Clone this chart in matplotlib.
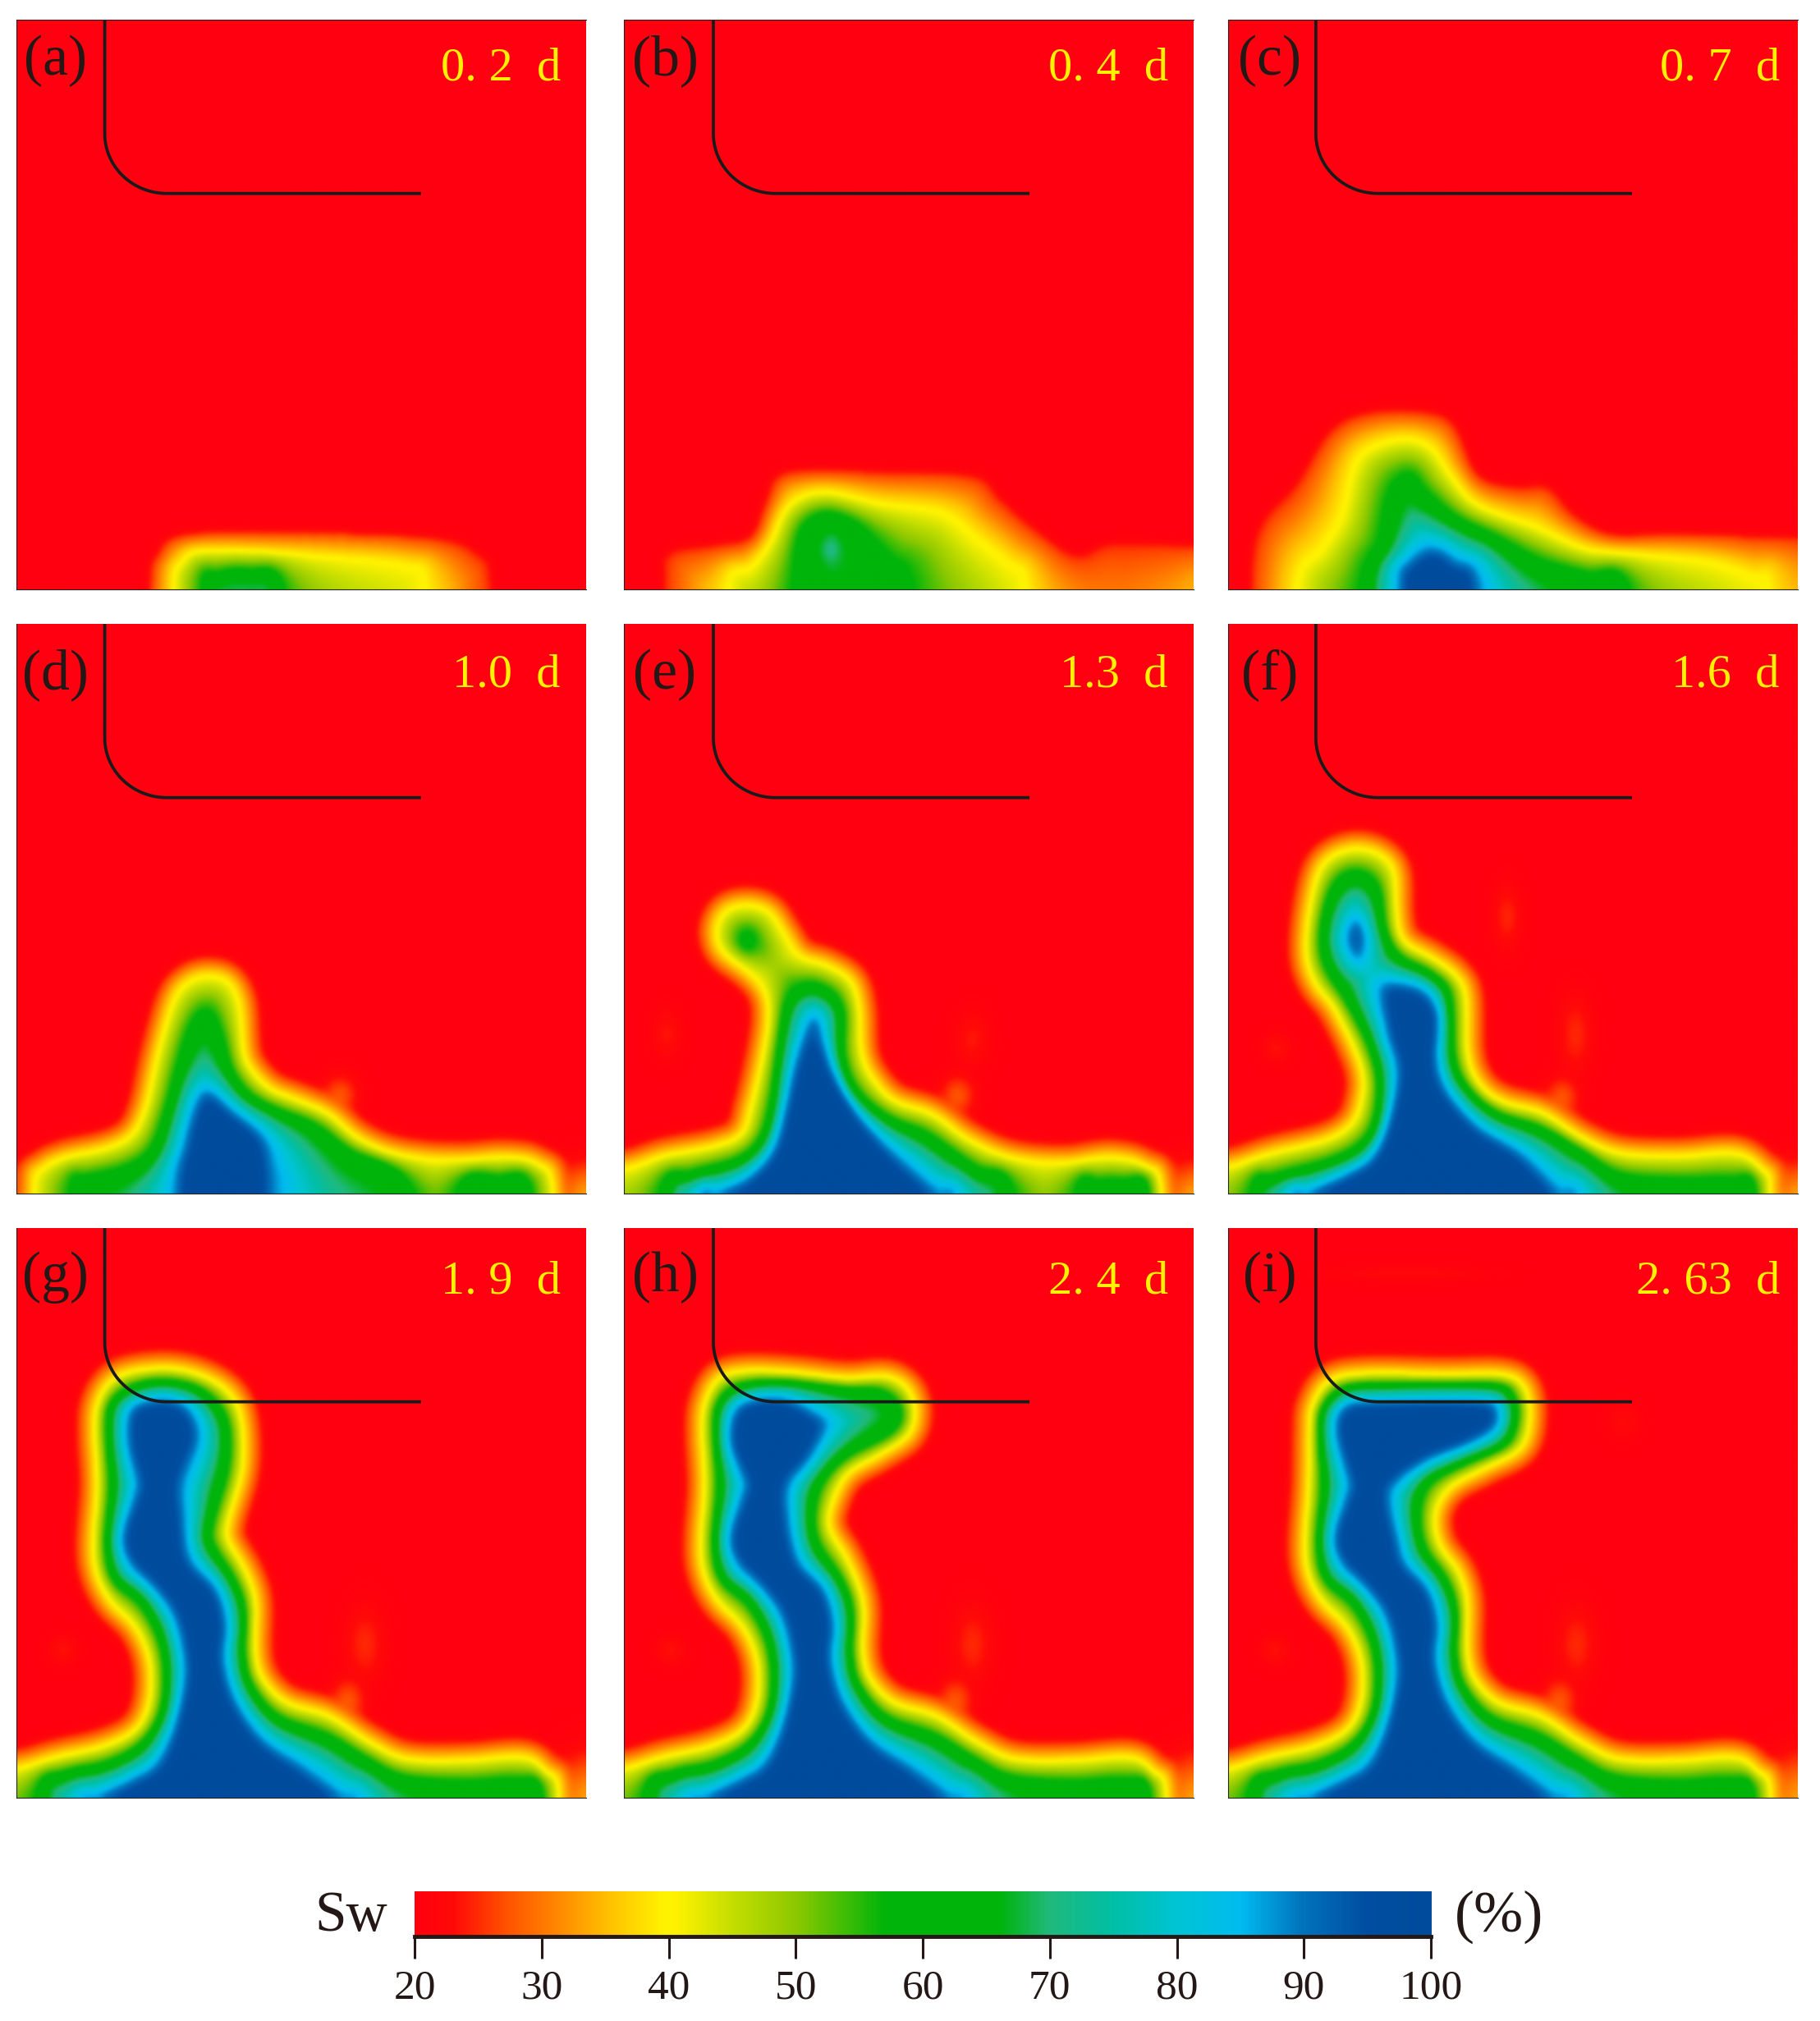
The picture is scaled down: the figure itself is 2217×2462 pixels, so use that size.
import numpy as np
import matplotlib
matplotlib.use('Agg')
import matplotlib.pyplot as plt
from matplotlib.colors import LinearSegmentedColormap
from matplotlib.path import Path

plt.rcParams['font.family'] = ['Liberation Serif', 'DejaVu Serif']

# panel names and time stamps
letters = ['(a)', '(b)', '(c)', '(d)', '(e)', '(f)', '(g)', '(h)', '(i)']
times = ['0. 2  d', '0. 4  d', '0. 7  d', '1.0  d', '1.3  d', '1.6  d', '1. 9  d', '2. 4  d', '2. 63  d']

# colour bar
bar_ticks = [20, 30, 40, 50, 60, 70, 80, 90, 100]
bar_values = [20, 23, 27, 30, 35, 39.5, 40.5, 45, 50, 57, 66, 70, 75, 80, 85, 90, 95, 100]
bar_colors = ['#FF0010', '#FF0A08', '#FF5000', '#FF7800', '#FFBE00', '#FFF200', '#FFF200', '#C4DE00',
              '#8CC800', '#00B40A', '#00B40A', '#20B97C', '#00BFA6', '#00C4D4', '#00BCF0',
              '#0072BC', '#004EA2', '#004B9B']

# saturation contours, x and y in percent of the panel
a_25 = [(23.5, 0), (24.9, 6), (29, 9.4), (44.6, 10), (71.9, 9.1), (80.8, 6), (83.2, 0)]
a_40 = [(27.6, 0), (29, 4.6), (33.1, 6.8), (51.5, 6), (68.5, 4.3), (71.9, 0)]
a_60 = [(32.7, 0), (35.1, 2.6), (40.6, 3.3), (46.7, 0)]

b_25 = [(7.2, 0), (8.2, 8.7), (16, 10.8), (22.2, 12.8), (24.9, 21), (27, 27.9), (32.4, 29.6), (44.7, 29.2),
        (61.1, 28.2), (65.9, 22.4), (72, 14.9), (79.5, 8.1), (85.7, 11.1), (100, 10.8), (106, 10.8), (106, -4)]
b_40 = [(18.1, 0), (22.2, 5.3), (25.6, 11.5), (28.3, 19.7), (31.7, 23.4), (36.5, 24.1), (44.7, 21.4),
        (55.6, 19.3), (61.8, 12.8), (67.9, 6), (70.6, 0)]
b_40_corner = [(104, -1), (108, 1), (112, -1)]
b_60 = [(30.7, 0), (31.1, 12.2), (33.1, 16.9), (36.5, 18.3), (41.3, 14.9), (46.1, 6), (48.5, 0)]
b_68 = [(36.5, 13.4), (37.7, 10), (36.5, 6.5), (35, 10)]

c_25 = [(4.1, 0), (5.8, 15.5), (11.9, 25.7), (18, 39.3), (24.8, 44), (35, 44), (39.7, 40.6), (43.8, 28.4),
        (50.6, 25.3), (56, 25.3), (60.8, 18.2), (67.6, 13.5), (79.2, 13.8), (100, 12.8), (108, 12.8), (108, -5)]
c_40 = [(11.9, 0), (16.6, 10.1), (20, 18.2), (22.1, 30.4), (24.8, 35.2), (30.9, 37.6), (35.7, 35.2), (39.1, 28.4),
        (43.8, 20.9), (54, 15.5), (62.8, 10.1), (72.4, 8.7), (84.6, 7), (92.7, 2.9), (94.8, 0)]
c_60 = [(24.5, 0), (27.5, 11.4), (28.9, 22.3), (31.6, 27.7), (34.3, 23.6), (39.7, 17.5), (46.5, 12.8),
        (54, 6.7), (62.8, 3.3), (69.6, 0)]
c_90 = [(30.2, 0), (31.6, 6), (35.7, 9.7), (39.7, 6.7), (43.8, 0)]

d_40 = [(3, 0), (4.4, 5.8), (8.5, 8.8), (16, 11.2), (20.4, 14.6), (22.8, 21.4), (24.8, 33.7), (27.6, 47.3),
        (30.3, 52), (33.7, 53.4), (37.1, 52), (39.1, 46.6), (39.8, 35), (41.2, 30.3), (44.6, 25.5), (49.3, 22.8),
        (54.8, 19.4), (59.5, 13.9), (65, 10.2), (71.8, 8.5), (78.6, 8.2), (86, 8.8), (91.5, 7.1), (94.2, 0)]
d_60 = [(10.2, 0), (11.6, 3.1), (19.4, 5.8), (24.1, 10.5), (26.9, 21.4), (30.3, 38.4), (33.3, 43.9), (35.7, 38.4),
        (37.4, 30.3), (40.5, 24.1), (45.9, 20.1), (52, 16.7), (58.2, 10.5), (69, 0)]
d_60_lobe = [(77.9, 0), (84.7, 3.4), (90.1, 0)]
d_90 = [(28.2, 0), (29.6, 11.2), (31.6, 21.4), (33.7, 24.5), (37.8, 20.1), (43.2, 13.3), (44.6, 4.4), (44.6, 0)]

e_40 = [(-10, 5), (0, 6.1), (7.1, 9.2), (16, 11.6), (20.7, 14.6), (22.4, 21.4), (24.5, 33.7), (25.5, 43.2),
        (24.8, 49.3), (22.1, 54.1), (17.3, 59.5), (16.3, 64.9), (18, 69.4), (21.8, 70.7), (25.5, 69), (28.2, 63.6),
        (30.9, 58.2), (35.7, 55.8), (39.8, 52), (41.2, 45.2), (41.6, 35), (43.3, 28.9), (47.3, 22.8), (54.1, 19.4),
        (60.3, 13.3), (67.7, 8.8), (77.2, 7.5), (85.4, 8.8), (91.5, 6.5), (94.2, 0)]
e_60 = [(7.1, 0), (11.9, 4.4), (20, 7.8), (24.1, 12.6), (26.2, 21.4), (27.6, 38.4), (29, 47.3), (32.3, 50.7),
        (35.7, 49.3), (38.1, 44.6), (38.1, 33.7), (40.5, 24.8), (46.6, 18), (53.4, 13.9), (61.6, 5.8), (67.7, 0)]
e_60_lobe = [(80, 0), (83, 2.2), (88, 2.5), (92, 0)]
e_60_blob = [(21.6, 63.5), (22.3, 62), (21.6, 60.5), (20.9, 62)]
e_90 = [(13, -3), (16.7, 0), (22, 3.7), (26.2, 10.5), (28.2, 20), (30.3, 32.3), (33.3, 42.5), (35, 36.4), (37.1, 28.9),
        (41.8, 18), (48, 8.5), (54.8, 0), (58, -3)]

f_40 = [(-10, 5), (0, 6.6), (7.8, 10), (17.3, 13.3), (22, 17.7), (23.7, 24.5), (23.7, 29.9), (22, 36.7), (18.6, 46.2),
        (15.6, 51.6), (13.9, 58.4), (14.2, 68.5), (15.9, 79.4), (18.6, 83.8), (22.7, 85.4), (26.7, 83.8), (29.1, 79.4),
        (29.5, 68.5), (30.8, 62.4), (35.5, 58.4), (39.6, 54.3), (41.6, 48.9), (42, 34), (44.3, 26.5), (48.4, 22.5),
        (55.2, 19.8), (62, 13.7), (68.7, 10), (78.9, 9.3), (89, 10), (93.8, 5.6), (95.1, 0)]
f_60 = [(4.7, 0), (7.8, 3.5), (17.9, 7.6), (23.4, 11.6), (26.1, 17.7), (26.6, 27.9), (24.7, 38), (20.6, 48.9), (17.3, 57),
        (16.6, 65.1), (18.6, 75.3), (22.3, 79), (26.1, 75.3), (27.4, 65.1), (30.1, 58.4), (35.5, 54.3), (38.6, 48.9),
        (39.3, 34), (41.6, 26.5), (47, 19.8), (55.2, 15.7), (62, 10.3), (68.7, 4.2), (78.9, 2.8), (88.4, 2.8), (92.4, 0)]
f_90 = [(11, -3), (14.2, 0), (21.3, 4.9), (25.4, 8.9), (28.1, 17.7), (29.8, 29.9), (28.1, 39.4), (27.1, 50.2), (30.1, 51.6),
        (34.2, 49.9), (36.6, 45.5), (36.9, 40.1), (36.6, 32.6), (38.3, 25.2), (43.7, 16.4), (51.1, 9.6), (57.9, 0), (61, -3)]
f_90_blob = [(22.5, 67.2), (23.7, 63), (22.7, 58.9), (21.3, 63)]

# the last three panels share their lower part
low_left_40 = [(-10, 4), (0, 5.1), (7.1, 7.1), (14.6, 8.8), (20.1, 11.2), (22.8, 14.6), (23.8, 20.1), (23.1, 25.5),
               (20.7, 30.3), (16.7, 34.4), (14.3, 39.1), (13.6, 44.6), (14.3, 54.8)]
low_right_40 = [(41.8, 34.4), (41.8, 25.5), (43.2, 20.7), (47.3, 16.7), (54.8, 14.3), (61.6, 9.9), (68.4, 6.8),
                (78.6, 6.5), (88.8, 7.1), (92.9, 4.4), (95.2, 0)]
low_left_60 = [(4.1, 0), (8.5, 4.1), (16, 5.8), (22, 9.2), (25.5, 14.6), (26.3, 20.7), (25.5, 27.6), (22.1, 34.4),
               (17.3, 38.4), (16, 44.6), (16.7, 54.8)]
low_right_60 = [(37.8, 38.4), (39.8, 33), (39.8, 24.8), (41.2, 19.4), (45.9, 13.9), (54.8, 10.5), (61.6, 6.5),
                (67.7, 3.4), (78.6, 2.4), (88.1, 2.7), (92.2, 0)]
low_left_90 = [(11, -3), (14.6, 0), (20.7, 3.1), (24.8, 5.8), (27.6, 11.9), (29.6, 20.7), (29.3, 26.2), (27.6, 32.3),
               (24.1, 37.1), (20.1, 41.2), (18.7, 45.9)]
low_right_90 = [(35, 36.4), (36.7, 30.3), (36.3, 24.1), (38.4, 16.7), (43.2, 9.9), (50, 5.1), (56.8, 0), (60, -3)]

g_top_40 = [(13.9, 63.6), (14.3, 69), (16.7, 73.1), (20.7, 74.8), (27.6, 75.2), (33.7, 73.5), (37.8, 70.4), (39.5, 65.6),
            (39.5, 57.5), (37.1, 48.6), (37.1, 45.2), (40.1, 39.8)]
g_top_60 = [(16.1, 64.3), (16.7, 69), (20.1, 71.8), (25.5, 73), (31.6, 71.8), (35.4, 68.4), (37, 64.3), (36.7, 57.5),
            (34, 48), (34, 44.6)]
g_top_90 = [(21.1, 53.4), (21.4, 55.4), (19.7, 62.2), (20.1, 67.7), (22.8, 69.4), (26.9, 69.7), (30.3, 67.7),
            (31.6, 62.9), (28.9, 55.4), (29.2, 49.3), (30.3, 41.8)]

h_top_40 = [(13.9, 63.6), (14.3, 69), (16.7, 73.5), (21.4, 74.8), (29.6, 74.5), (39.1, 73.5), (45.9, 73.9), (49.7, 71.8),
            (51, 67.7), (49.7, 63.6), (44.6, 60.2), (39.1, 56.8), (36.4, 51.4), (36, 47.3), (39.1, 41.8)]
h_top_60 = [(16.1, 64.3), (16.7, 69), (20.1, 72.1), (27.6, 73), (39.1, 71.8), (44.6, 71.4), (47.9, 69), (48.3, 66.3),
            (45.9, 63.6), (39.1, 60.2), (34.4, 55.4), (33, 49.3), (34, 43.9)]
h_top_90 = [(21.1, 53.4), (21.4, 55.4), (18.7, 62.2), (19.7, 68), (24.1, 70), (28.9, 69.7), (33.7, 67), (35, 65),
            (32.3, 59.5), (28.9, 55.4), (28.5, 50.7), (30.3, 41.8)]

i_top_40 = [(14.5, 64), (15, 68.8), (18, 73.2), (24.8, 74.4), (38.3, 74.2), (47.8, 74.2), (51.8, 72.2), (52.8, 66.8),
            (51.2, 61.4), (45, 58), (39, 54.6), (36.3, 49.9), (37, 44.5), (40.3, 39.7)]
i_top_60 = [(16.1, 64.3), (17, 68.8), (20.7, 71.9), (28.1, 72.4), (46.4, 72.4), (49.8, 70.2), (50.5, 66.8), (48.4, 62),
            (41, 58.7), (34.9, 55.3), (33.2, 49.9), (34.2, 43.8)]
i_top_90 = [(21.1, 53.4), (21.4, 55.4), (19, 64), (20.4, 68.5), (26.1, 69.5), (44.4, 69.5), (47.1, 67.5), (46.4, 64.8),
            (41.7, 62), (34.9, 59.3), (29.5, 55.6), (28.1, 52.6), (29.5, 45.8), (30.9, 41)]

# faint orange patches: x, y, x radius, y radius, peak value
corner = (101, -1, 6, 8, 34)
spots_d = [(56.8, 24, 3, 5, 28), corner]
spots_e = [(7.6, 39.1, 2.5, 6, 24), (61.2, 37.8, 3, 7, 24), (58.6, 24, 3, 5, 28), corner]
spots_f = [(49, 68.5, 2.4, 8, 25), (61, 39.4, 3, 10, 25), (8.5, 36, 2.5, 3.5, 24), (58.6, 23.8, 3, 5, 28), corner]
spots_g = [(58.2, 17, 3, 4, 28), (61.2, 26.9, 3.5, 7, 25), (8.2, 25.9, 2.5, 2.5, 24), corner]
spots_i = spots_g + [(69.4, 66, 3, 3, 23), (31.5, 92, 13, 1, 23.5)]

panels = [
    [(25, [a_25]), (40, [a_40]), (58, [a_60])],
    [(25, [b_25]), (40, [b_40, b_40_corner]), (60, [b_60]), (68, [b_68])],
    [(25, [c_25]), (40, [c_40]), (60, [c_60]), (90, [c_90])],
    [(40, [d_40]), (60, [d_60, d_60_lobe]), (90, [d_90])],
    [(40, [e_40]), (60, [e_60, e_60_lobe, e_60_blob]), (90, [e_90])],
    [(40, [f_40]), (60, [f_60]), (90, [f_90, f_90_blob])],
    [(40, [low_left_40 + g_top_40 + low_right_40]), (60, [low_left_60 + g_top_60 + low_right_60]),
     (90, [low_left_90 + g_top_90 + low_right_90])],
    [(40, [low_left_40 + h_top_40 + low_right_40]), (60, [low_left_60 + h_top_60 + low_right_60]),
     (90, [low_left_90 + h_top_90 + low_right_90])],
    [(40, [low_left_40 + i_top_40 + low_right_40]), (60, [low_left_60 + i_top_60 + low_right_60]),
     (90, [low_left_90 + i_top_90 + low_right_90])],
]
spots = [[], [], [], spots_d, spots_e, spots_f, spots_g, spots_g, spots_i]
y_scale = [1, 0.703, 0.703, 0.715, 0.715, 0.708, 1, 1, 1]

# pixel layout of the reference
W, H = 2217, 2462
col_left = [20, 760, 1496]
row_top = [24, 760, 1496]
panel_px = 694
letter_x = [6.8, 7.2, 7.3]
letter_y = [92.8, 91.0, 91.3]
time_x = [95.5, 95.5, 96.8]
time_y = [91.4, 91.0, 90.6]
well_shift = [0.2, 0.4, 0.1]

n = 240
gx, gy = np.meshgrid((np.arange(n) + 0.5) / n * 100, (np.arange(n) + 0.5) / n * 100)


def spline(pts, closed):
    # Catmull-Rom through the read points
    p = np.array(pts, dtype=float)
    if closed:
        p = np.vstack([p[-1], p, p[0], p[1]])
    else:
        p = np.vstack([p[0], p, p[-1]])
    out = []
    for i in range(1, len(p) - 2):
        t = np.linspace(0, 1, 10, endpoint=False)[:, None]
        out.append(0.5 * (2 * p[i] + (p[i + 1] - p[i - 1]) * t
                          + (2 * p[i - 1] - 5 * p[i] + 4 * p[i + 1] - p[i + 2]) * t ** 2
                          + (3 * p[i] - p[i - 1] - 3 * p[i + 1] + p[i + 2]) * t ** 3))
    return np.vstack(out + [p[-2]])


def level_maps(polys, fy):
    inside = np.zeros(gx.shape, dtype=bool)
    dist = np.full(gx.shape, 1e9)
    for pts in polys:
        closed = pts[0][0] >= 0 and pts[0][1] > 0
        pts = [(x, y * fy) for x, y in pts]
        if not closed:
            pts = [(pts[0][0], -30)] + pts + [(pts[-1][0], -30)]
        c = spline(pts, closed)
        inside |= Path(c).contains_points(np.c_[gx.ravel(), gy.ravel()]).reshape(gx.shape)
        for r in range(n):
            d = np.sqrt(((gx[r][:, None] - c[:, 0]) ** 2 + (gy[r][:, None] - c[:, 1]) ** 2).min(axis=1))
            dist[r] = np.minimum(dist[r], d)
    return inside, dist


def blur(z, sigma):
    k = np.exp(-0.5 * (np.arange(-8, 9) / sigma) ** 2)
    k /= k.sum()
    z = np.pad(z, 8, mode='edge')
    z = np.apply_along_axis(lambda v: np.convolve(v, k, mode='same'), 0, z)
    z = np.apply_along_axis(lambda v: np.convolve(v, k, mode='same'), 1, z)
    return z[8:-8, 8:-8]


def build_field(levels, patches, fy):
    maps = [level_maps(polys, fy) for lev, polys in levels]
    first = levels[0][0]
    z = np.maximum(first - maps[0][1] * 20 / 4.2, 20)
    for j, (lev, polys) in enumerate(levels):
        ins, d = maps[j]
        if j + 1 < len(levels):
            d2 = maps[j + 1][1]
            z[ins] = (lev + (levels[j + 1][0] - lev) * d / (d + d2 + 1e-6))[ins]
        else:
            z[ins] = (lev + np.minimum(d * 4, 10))[ins]
    for sx, sy, rx, ry, peak in patches:
        z = np.maximum(z, 20 + (peak - 20) * np.exp(-((gx - sx) / rx) ** 2 - ((gy - sy * fy) / (ry * fy)) ** 2))
    return blur(z, 1.8)


cmap = LinearSegmentedColormap.from_list('sw', [((v - 20) / 80, c) for v, c in zip(bar_values, bar_colors)], N=512)

fig = plt.figure(figsize=(W / 100, H / 100), dpi=100)


def add_axes_px(x0, y0, x1, y1):
    return fig.add_axes([x0 / W, 1 - y1 / H, (x1 - x0) / W, (y1 - y0) / H])


# horizontal well
arc = np.linspace(np.pi, 1.5 * np.pi, 40)
well_x = np.r_[15.3, 26.2 + 10.9 * np.cos(arc), 70.8]
well_y = np.r_[100, 80 + 10.5 * np.sin(arc), 69.5]

for k in range(9):
    row, col = k // 3, k % 3
    ax = add_axes_px(col_left[col], row_top[row], col_left[col] + panel_px, row_top[row] + panel_px)
    z = build_field(panels[k], spots[k], y_scale[k])
    ax.imshow(z, origin='lower', extent=[0, 100, 0, 100], cmap=cmap, vmin=20, vmax=100,
              interpolation='bicubic', aspect='auto')
    ax.plot(well_x + well_shift[col], well_y, color='#1a1a1a', lw=2.7, solid_capstyle='butt')
    ax.set_xlim(0, 100)
    ax.set_ylim(0, 100)
    ax.set_xticks([])
    ax.set_yticks([])
    for s in ax.spines.values():
        s.set_linewidth(0.8)
        s.set_color('#222222')
    ax.spines['right'].set_visible(False)
    if row > 0:
        ax.spines['top'].set_visible(False)
    ax.text(letter_x[col], letter_y[row], letters[k], fontsize=50, color='#231815', ha='center', va='center')
    ax.text(time_x[col], time_y[row], times[k], fontsize=42, color='#FFF200', ha='right', va='center')

# colour bar
cax = add_axes_px(505, 2304, 1743, 2359)
cax.imshow(np.linspace(20, 100, 800)[None, :], extent=[20, 100, 0, 1], aspect='auto', cmap=cmap, vmin=20, vmax=100)
cax.set_yticks([])
cax.set_xticks(bar_ticks)
cax.set_xticklabels([str(t) for t in bar_ticks], fontsize=37, color='#231815')
cax.tick_params(axis='x', length=19.5, width=2.2, color='#231815', pad=9)
for s in ['top', 'left', 'right']:
    cax.spines[s].set_visible(False)
cax.spines['bottom'].set_linewidth(3.5)
cax.spines['bottom'].set_color('#231815')

fig.text(428 / W, 1 - 2335 / H, 'Sw', fontsize=50, color='#231815', ha='center', va='center')
fig.text(1826 / W, 1 - 2335 / H, '(%)', fontsize=52, color='#231815', ha='center', va='center')

fig.savefig('out.png', dpi=100)
